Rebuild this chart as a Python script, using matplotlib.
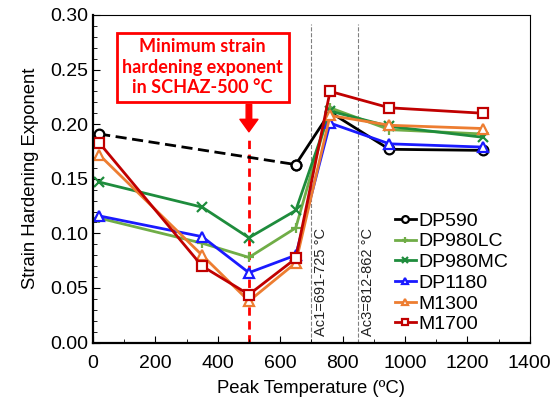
import numpy as np
import matplotlib.pyplot as plt
from matplotlib.ticker import MultipleLocator

plt.rcParams['font.family'] = ['Liberation Sans', 'DejaVu Sans']

# peak temperatures of the simulated HAZ samples (C)
temps = [20, 350, 500, 650, 760, 950, 1250]

# strain hardening exponent per steel grade
dp590 = [0.191, 0.163, 0.211, 0.177, 0.176]
dp590_temps = [20, 650, 760, 950, 1250]
dp980lc = [0.114, 0.091, 0.078, 0.105, 0.215, 0.195, 0.191]
dp980mc = [0.147, 0.124, 0.096, 0.121, 0.212, 0.198, 0.188]
dp1180 = [0.116, 0.097, 0.064, 0.080, 0.201, 0.182, 0.179]
m1300 = [0.172, 0.080, 0.038, 0.073, 0.208, 0.199, 0.196]
m1700 = [0.183, 0.070, 0.044, 0.077, 0.230, 0.215, 0.210]

ac1 = 700
ac3 = 850
min_temp = 500

fig = plt.figure(figsize=(5.53, 4.04), dpi=100)
ax = fig.add_axes([0.168, 0.152, 0.79, 0.811])

mk = dict(markersize=7, markerfacecolor='white', markeredgewidth=1.6, linewidth=2)

# DP590: dashed below the critical range, solid above
ax.plot(dp590_temps[:2], dp590[:2], color='black', linestyle=(0, (4, 2)), marker='o', **mk)
ax.plot(dp590_temps[1:], dp590[1:], color='black', marker='o', label='DP590', **mk)
ax.plot(temps, dp980lc, color='#70AD47', marker='+', label='DP980LC', **mk)
ax.plot(temps, dp980mc, color='#1E8C3C', marker='x', label='DP980MC', **mk)
ax.plot(temps, dp1180, color='#1A1AFF', marker='^', label='DP1180', **mk)
ax.plot(temps, m1300, color='#ED7D31', marker='^', label='M1300', **mk)
ax.plot(temps, m1700, color='#C00000', marker='s', label='M1700', **mk)

# critical temperatures
for xv, txt in [(ac1, 'Ac1=691-725 °C'), (ac3, 'Ac3=812-862 °C')]:
    ax.plot([xv, xv], [0, 0.292], color='#808080', linestyle='--', linewidth=0.8, zorder=1)
    ax.text(xv + 10, 0.006, txt, rotation=90, fontsize=10.5, ha='left', va='bottom', color='#222222')

# minimum exponent marker
ax.plot([min_temp, min_temp], [0, 0.19], color='#FF0000', linestyle=(0, (3, 2)), linewidth=2, zorder=1)
ax.annotate('', xy=(min_temp, 0.193), xytext=(min_temp, 0.218),
            arrowprops=dict(facecolor='#FF0000', edgecolor='#FF0000', width=4, headwidth=13, headlength=9))
ax.text(352, 0.252, 'Minimum strain\nhardening exponent\nin SCHAZ-500 °C', color='#FF0000',
        fontsize=13, fontweight='bold', family=['Lato', 'DejaVu Sans'], ha='center', va='center',
        linespacing=1.25,
        bbox=dict(boxstyle='square,pad=0.3', facecolor='white', edgecolor='#FF0000', linewidth=2))

ax.set_xlim(0, 1400)
ax.set_ylim(0, 0.30)
ax.xaxis.set_major_locator(MultipleLocator(200))
ax.xaxis.set_minor_locator(MultipleLocator(100))
ax.yaxis.set_major_locator(MultipleLocator(0.05))
ax.yaxis.set_minor_locator(MultipleLocator(0.01))
ax.yaxis.set_major_formatter(plt.FormatStrFormatter('%.2f'))
ax.tick_params(which='both', direction='in', labelsize=14)
ax.tick_params(which='major', length=5)
ax.tick_params(which='minor', length=3)
ax.tick_params(axis='x', pad=9)
for s in ['left', 'bottom']:
    ax.spines[s].set_linewidth(1.6)

ax.set_xlabel('Peak Temperature (ºC)', fontsize=13.3, labelpad=6)
ax.set_ylabel('Strain Hardening Exponent', fontsize=13.3, labelpad=8)

ax.legend(loc='lower right', bbox_to_anchor=(0.99, -0.025), frameon=False, fontsize=14,
          handlelength=1.1, handletextpad=0.1, labelspacing=0.16, markerscale=0.7)

fig.savefig('out.png', dpi=100)
